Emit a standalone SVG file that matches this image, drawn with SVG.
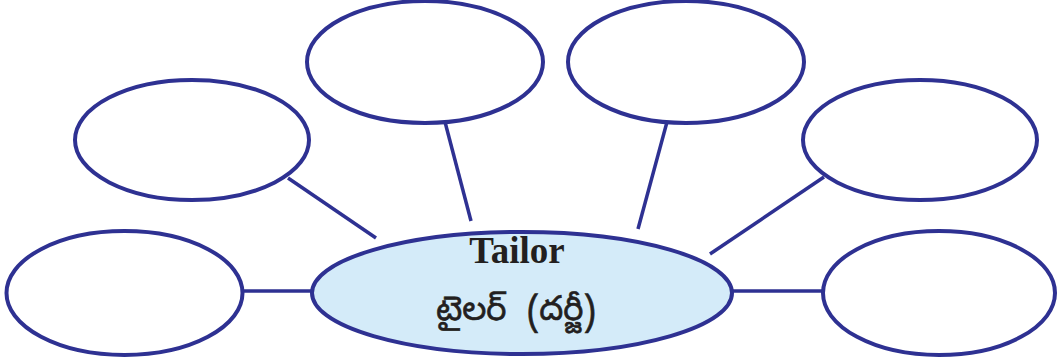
<svg xmlns="http://www.w3.org/2000/svg" width="1058" height="362" viewBox="0 0 1058 362">
<style>
.n{fill:#ffffff;stroke:#2e3192;stroke-width:4}
.c{fill:#d4ebf9;stroke:#2e3192;stroke-width:4}
.l{stroke:#2e3192;stroke-width:3.5;fill:none}
.t1{font-family:"Liberation Serif",serif;font-weight:bold;font-size:37px;fill:#231f20}
.t2{font-family:"Noto Sans Telugu","Noto Sans","Noto Serif Telugu",sans-serif;font-size:34px;fill:#231f20;stroke:#231f20;stroke-width:0.6}
</style>
<rect width="1058" height="362" fill="#ffffff"/>
<g id="connectors">
<line class="l" x1="242" y1="291" x2="314" y2="291"/>
<line class="l" x1="288" y1="178" x2="376" y2="238"/>
<line class="l" x1="445" y1="122" x2="471" y2="221"/>
<line class="l" x1="667" y1="122" x2="638" y2="229"/>
<line class="l" x1="824" y1="177" x2="710" y2="254"/>
<line class="l" x1="731" y1="291" x2="823" y2="291"/>
</g>
<g id="node-bl"><ellipse class="n" cx="124.5" cy="293" rx="118" ry="62"/></g>
<g id="node-ul"><ellipse class="n" cx="192" cy="140" rx="117" ry="60"/></g>
<g id="node-tl"><ellipse class="n" cx="425" cy="62" rx="118" ry="61"/></g>
<g id="node-tr"><ellipse class="n" cx="686" cy="62" rx="118" ry="61"/></g>
<g id="node-ur"><ellipse class="n" cx="920" cy="140" rx="117" ry="60"/></g>
<g id="node-br"><ellipse class="n" cx="939" cy="293" rx="116" ry="62"/></g>
<g id="node-center">
<ellipse class="c" cx="522" cy="293" rx="210" ry="61"/>
<text class="t1" x="517" y="263" text-anchor="middle">Tailor</text>
<text class="t2" y="320"><tspan x="436">టైలర్</tspan><tspan x="527">(దర్జీ)</tspan></text>
</g>
</svg>
